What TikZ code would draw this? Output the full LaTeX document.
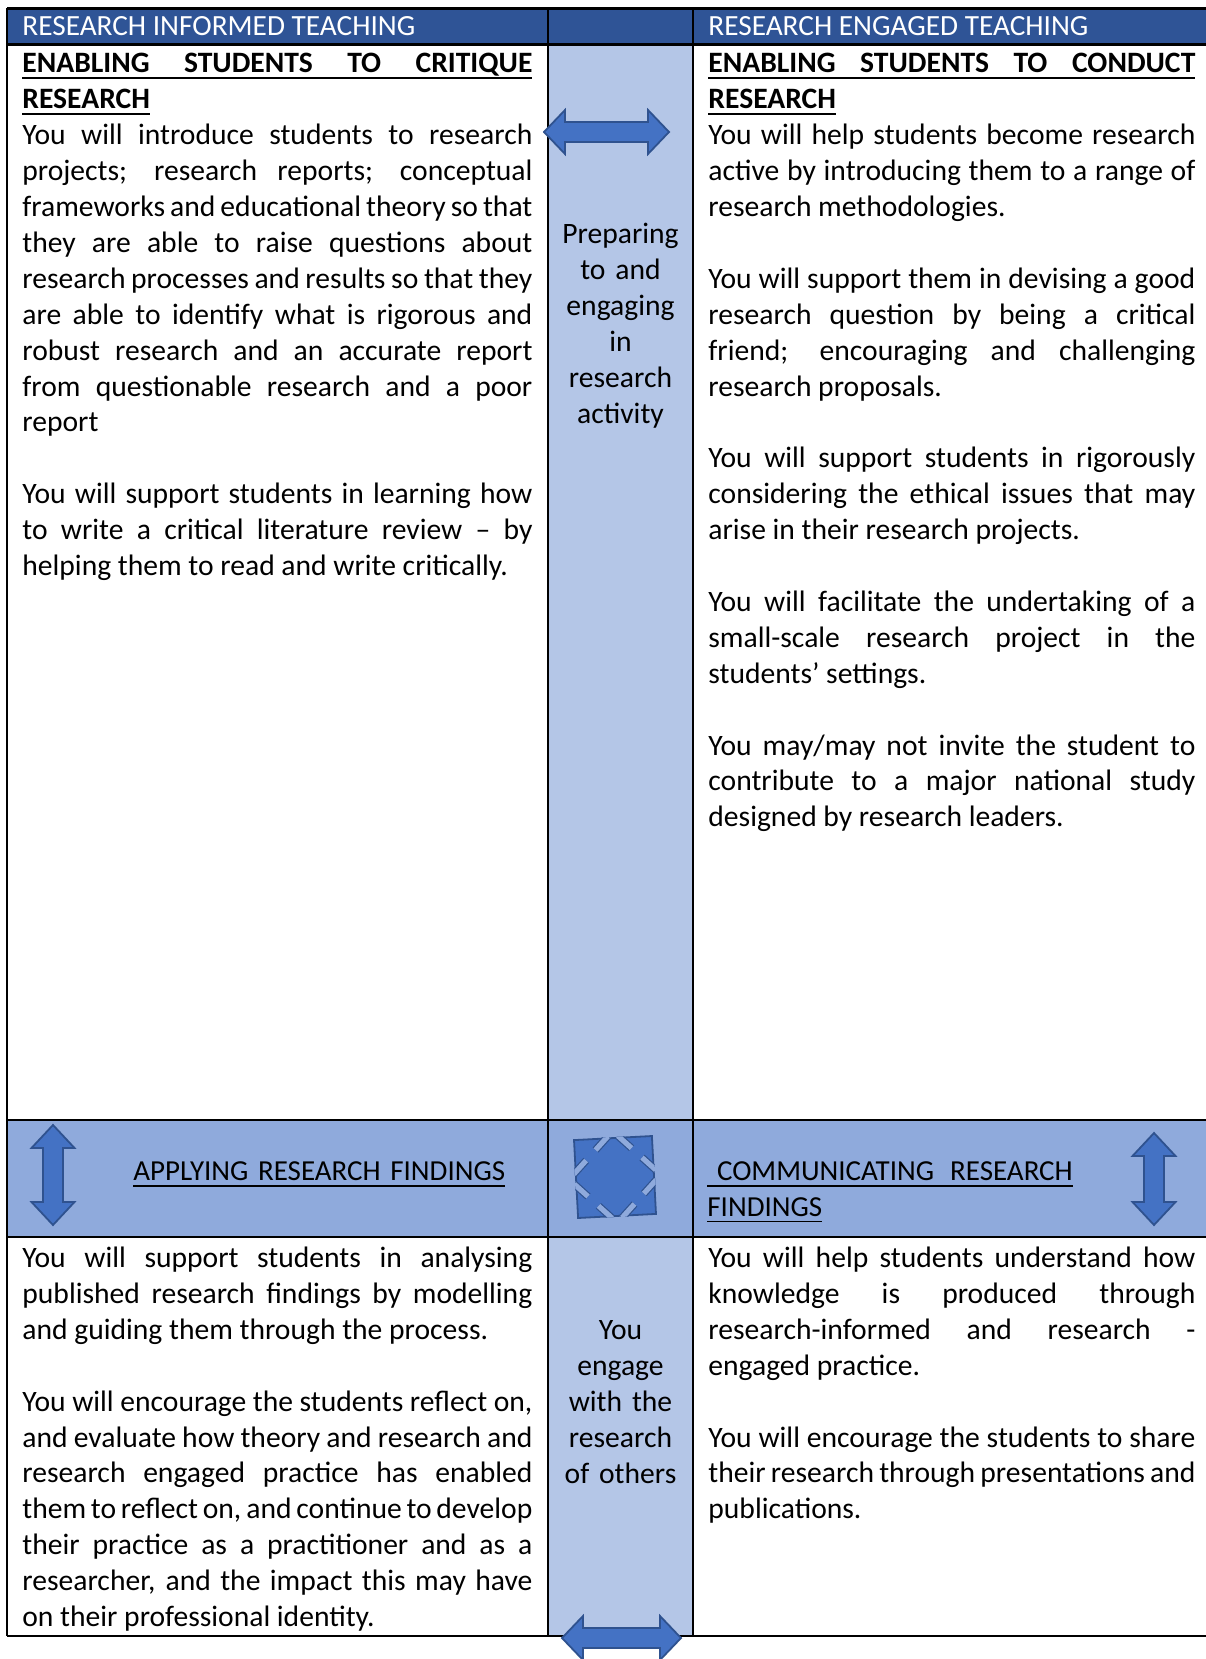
\documentclass[tikz,border=0pt]{standalone}
\usepackage{fontspec}
\setmainfont{Carlito}
\usetikzlibrary{positioning}

\definecolor{headblue}{HTML}{2F5496}
\definecolor{colblue}{HTML}{B4C6E7}
\definecolor{bandblue}{HTML}{8FAADC}
\definecolor{shapeblue}{HTML}{4472C4}
\definecolor{shapeedge}{HTML}{2F528F}

% underline that also runs under the spaces
\newcommand{\uln}[1]{\leavevmode\setbox0=\hbox{#1}\rlap{\rule[-3pt]{\wd0}{0.95pt}}\box0}
\newcommand{\spreadline}[1]{\uln{\hbox to\hsize{#1}}}
\newcommand{\gap}{\par\vspace{\baselineskip}}

\begin{document}
\begin{tikzpicture}[
    x=0.5pt, y=-0.5pt,
    cell text/.style={anchor=north west, inner sep=0pt, align=justify,
        font=\fontsize{14.8}{17.95}\selectfont,
        execute at begin node={\tolerance=10000\hyphenpenalty=10000\exhyphenpenalty=10000\strut}},
    left text/.style={cell text, text width=255pt},
    right text/.style={cell text, text width=243.5pt},
    mid text/.style={cell text, anchor=north, align=center, text width=68pt},
    band text/.style={cell text, align=left, text width=210pt,
        font=\fontsize{14.5}{17.95}\selectfont},
    head text/.style={anchor=base west, inner sep=0pt, text=white,
        font=\fontsize{14.65}{17.95}\selectfont},
    grid line/.style={line width=1.2pt},
    arrow shape/.style={fill=shapeblue, draw=shapeedge, line width=0.9pt, line join=miter},
    notch/.style={draw=shapeedge, double=bandblue, double distance=2.6pt, line width=0.6pt}
]

\useasboundingbox (0,0) rectangle (1205,1659);
\fill[white] (0,0) rectangle (1205,1659);

% Fills
\fill[headblue] (7,8.5) rectangle (1212,44.4);
\fill[colblue] (548,44.4) rectangle (693,1636);
\fill[bandblue] (7,1120) rectangle (1212,1237);

% Grid
\draw[grid line] (7,8.5) -- (1212,8.5);
\draw[grid line] (7,44.4) -- (1212,44.4);
\draw[grid line] (7,1120) -- (1212,1120);
\draw[grid line] (7,1237) -- (1212,1237);
\draw[grid line] (7,1636) -- (1212,1636);
\draw[grid line] (7,8.5) -- (7,1636);
\draw[grid line] (548,8.5) -- (548,1636);
\draw[grid line] (693,8.5) -- (693,1636);

% Header row
\node[head text] (informed) at (22,35.5) {RESEARCH INFORMED TEACHING};
\node[head text] (engaged) at (708,35.5) {RESEARCH ENGAGED TEACHING};

% Top cells
\node[left text] (critique) at (22,47.4) {%
\textbf{\spreadline{ENABLING\hfill STUDENTS\hfill TO\hfill CRITIQUE}}\par
\textbf{\uln{RESEARCH}}\par
You will introduce students to research\linebreak
projects; research reports; conceptual\linebreak
frameworks and educational theory so that\linebreak
they are able to raise questions about\linebreak
research processes and results so that they\linebreak
are able to identify what is rigorous and\linebreak
robust research and an accurate report\linebreak
from questionable research and a poor\linebreak
report\gap
You will support students in learning how\linebreak
to write a critical literature review -- by\linebreak
helping them to read and write critically.};

\node[mid text] (preparing) at (620.5,218) {Preparing\\to and\\engaging\\in\\research\\activity};

\node[right text] (conduct) at (708,47.4) {%
\textbf{\spreadline{ENABLING\hfill STUDENTS\hfill TO\hfill CONDUCT}}\par
\textbf{\uln{RESEARCH}}\par
You will help students become research\linebreak
active by introducing them to a range of\linebreak
research methodologies.\gap
You will support them in devising a good\linebreak
research question by being a critical\linebreak
friend; encouraging and challenging\linebreak
research proposals.\gap
You will support students in rigorously\linebreak
considering the ethical issues that may\linebreak
arise in their research projects.\gap
You will facilitate the undertaking of a\linebreak
small-scale research project in the\linebreak
students’ settings.\gap
You may/may not invite the student to\linebreak
contribute to a major national study\linebreak
designed by research leaders.};

% Band row
\node[band text] (applying) at (133,1155) {\uln{APPLYING RESEARCH FINDINGS}};
\node[band text] (communicating) at (707,1155) {\uln{\ COMMUNICATING\hspace{8pt}RESEARCH}\\\uln{FINDINGS}};

% Bottom cells
\node[left text] (analysing) at (22,1242) {%
You will support students in analysing\linebreak
published research findings by modelling\linebreak
and guiding them through the process.\gap
You will encourage the students reflect on,\linebreak
and evaluate how theory and research and\linebreak
research engaged practice has enabled\linebreak
them to reflect on, and continue to develop\linebreak
their practice as a practitioner and as a\linebreak
researcher, and the impact this may have\linebreak
on their professional identity.};

\node[mid text] (others) at (620.5,1314) {You\\engage\\with the\\research\\of others};

\node[right text] (sharing) at (708,1242) {%
You will help students understand how\linebreak
knowledge is produced through\linebreak
research-informed and research -\linebreak
engaged practice.\gap
You will encourage the students to share\linebreak
their research through presentations and\linebreak
publications.};

% Block arrows
\draw[arrow shape] (544,132) -- (565,110) -- (565,122) -- (648,122) -- (648,110) -- (669,132)
    -- (648,154) -- (648,142) -- (565,142) -- (565,154) -- cycle;
\draw[arrow shape] (562,1638) -- (583,1616) -- (583,1628) -- (660,1628) -- (660,1616) -- (681,1638)
    -- (660,1660) -- (660,1648) -- (583,1648) -- (583,1660) -- cycle;
\draw[arrow shape] (53,1125) -- (74.5,1148) -- (63,1148) -- (63,1202) -- (74.5,1202) -- (53,1225)
    -- (31.5,1202) -- (43,1202) -- (43,1148) -- (31.5,1148) -- cycle;
\draw[arrow shape] (1154,1133) -- (1175.5,1156) -- (1164,1156) -- (1164,1202) -- (1175.5,1202) -- (1154,1225)
    -- (1132.5,1202) -- (1144,1202) -- (1144,1156) -- (1132.5,1156) -- cycle;

% Expand icon
\begin{scope}[shift={(615,1177)}, rotate=3]
\draw[arrow shape] (-39,-39) rectangle (39,39);
\clip (-40.2,-40.2) rectangle (40.2,40.2);
\draw[notch] (-18,-28) -- (-5,-41) (5,-41) -- (18,-28);
\draw[notch] (-18,28) -- (-5,41) (5,41) -- (18,28);
\draw[notch] (-28,-18) -- (-41,-5) (-41,5) -- (-28,18);
\draw[notch] (28,-18) -- (41,-5) (41,5) -- (28,18);
\end{scope}
\end{tikzpicture}
\end{document}
